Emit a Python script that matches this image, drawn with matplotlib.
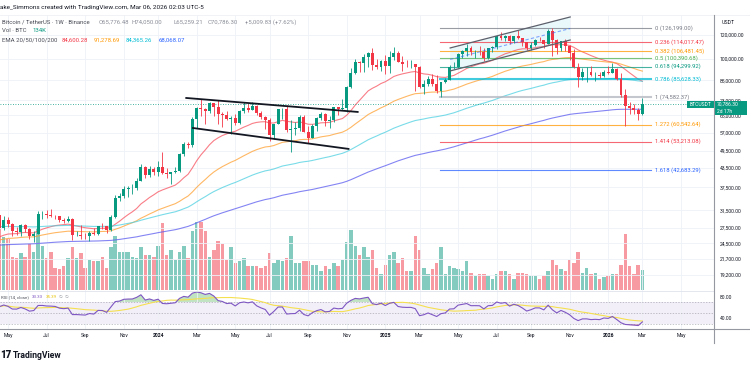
import numpy as np
import pandas as pd
import matplotlib
matplotlib.use("Agg")
import matplotlib.pyplot as plt
from matplotlib.patches import Polygon, Rectangle
from matplotlib.lines import Line2D
from matplotlib.ticker import NullLocator

plt.rcParams['font.family'] = ['Roboto', 'DejaVu Sans']

# ---- weekly BTCUSDT candles (Binance, 1W), first bar = week of 2023-04-17
first_week = "2023-04-17"
first_open = 30290
closes = [
    27590, 29230, 28430, 26780, 26750, 28070, 27230, 25910, 26340, 30530,
    30590, 30290, 30230, 30080, 29280, 29040, 29410, 26090, 26100, 25970,
    25830, 26530, 26250, 27970, 27930, 27160, 29990, 34500, 35010, 37060,
    37360, 37450, 39470, 43790, 41370, 42990, 42280, 43930, 41730, 41580,
    42030, 42580, 48300, 52140, 51730, 63110, 68950, 68370, 67210, 71280,
    69360, 65660, 64940, 63120, 63890, 61480, 66940, 68510, 67770, 69650,
    66200, 64250, 62680, 55850, 60800, 68160, 68250, 58120, 58710, 58920,
    64220, 57300, 54870, 59990, 63580, 65620, 62090, 62850, 69030, 68000,
    68780, 80400, 89850, 97900, 97190, 101110, 104460, 95190, 93690, 98360,
    94530, 101330, 104710, 97700, 96460, 96120, 96260, 94270, 80730, 82610,
    86080, 82390, 78430, 83760, 85170, 93750, 94280, 104120, 106450, 109010,
    105640, 105730, 105570, 100960, 108360, 109200, 119090, 117300, 119440, 114200,
    119300, 117400, 113490, 108250, 111140, 115270, 115230, 112160, 123480, 115170,
    108640, 114470, 110540, 104720, 94260, 86830, 90360, 90400, 88170, 88650,
    87800, 90500, 89600, 92600, 85600, 75900, 69800, 68600, 67600, 65776.48,
    70786.30]
highs = [
    30490, 30040, 29820, 28490, 27660, 28450, 28450, 27400, 26800, 31430,
    31280, 31500, 31800, 30340, 30080, 29730, 30250, 29690, 26830, 28150,
    26400, 26880, 27480, 28000, 28600, 27990, 30400, 35280, 35980, 38000,
    37980, 38400, 40250, 44700, 44000, 44300, 43800, 45880, 48970, 43580,
    42200, 43880, 48590, 52820, 52990, 64000, 69000, 73780, 68920, 71770,
    71340, 72800, 66870, 67230, 64800, 65490, 67700, 71950, 70600, 71950,
    70190, 66950, 64500, 63860, 61000, 68400, 68500, 70080, 62750, 61800,
    65000, 64960, 59800, 60640, 64130, 66500, 66000, 64480, 69500, 69520,
    73620, 81500, 93480, 99590, 98700, 104090, 105300, 108350, 99960, 98980,
    102700, 106420, 109590, 106460, 102500, 98830, 99480, 96500, 95000, 84900,
    87450, 88770, 88500, 83990, 86430, 95750, 97890, 104360, 107100, 111980,
    110720, 106800, 110530, 108900, 108530, 110500, 119500, 123220, 120250, 119800,
    119400, 124470, 117600, 113600, 113380, 116660, 117900, 115400, 125700, 126199,
    115970, 115000, 116400, 110800, 107500, 96600, 93090, 94150, 94600, 90360,
    90600, 91800, 94500, 97100, 93500, 90000, 79300, 72000, 70900, 68500,
    74050]
lows = [
    27100, 27020, 27660, 25810, 26080, 25880, 26600, 25350, 24800, 26260,
    29500, 29700, 29950, 29500, 28860, 28580, 28700, 25170, 25800, 25330,
    25350, 24900, 26000, 26000, 27200, 26540, 26900, 29700, 33900, 34500,
    34800, 35600, 36700, 39400, 40200, 40500, 41300, 40750, 41500, 40280,
    38550, 41800, 42250, 47700, 50520, 50900, 59000, 64500, 60780, 66400,
    64500, 60660, 59600, 62800, 56550, 60190, 60750, 66100, 66600, 67600,
    65000, 63400, 58400, 53480, 54260, 60630, 63400, 57120, 49000, 56080,
    57800, 57200, 52550, 54600, 57500, 62700, 59830, 58900, 62000, 65080,
    67500, 66840, 80200, 89400, 90800, 90500, 94150, 92120, 92500, 91300,
    89250, 89900, 99500, 97500, 91230, 94090, 93390, 78260, 80000, 76600,
    81150, 81600, 77150, 74500, 83100, 85150, 92800, 93380, 100700, 102000,
    103100, 100370, 102650, 98200, 99630, 105100, 107450, 115730, 114700, 112000,
    112650, 116800, 110680, 107250, 107270, 110620, 114380, 108620, 111900, 102000,
    103500, 106300, 106300, 98940, 93000, 80600, 85300, 83800, 87500, 84450,
    86400, 86900, 89200, 89500, 85300, 74500, 60000, 65500, 65600, 62500,
    65259.21]
# weekly volume, thousands of BTC
volumes_k = [
    510, 360, 345, 225, 215, 250, 225, 310, 260, 425,
    300, 215, 260, 150, 140, 160, 220, 295, 220, 250,
    150, 205, 195, 195, 225, 150, 290, 365, 255, 255,
    255, 225, 220, 290, 235, 235, 225, 300, 460, 235,
    270, 200, 255, 300, 220, 405, 465, 465, 400, 225,
    270, 335, 310, 205, 295, 180, 195, 215, 160, 160,
    165, 150, 160, 250, 185, 200, 195, 215, 365, 185,
    180, 195, 195, 170, 170, 130, 165, 140, 185, 160,
    205, 325, 410, 300, 235, 295, 225, 275, 145, 110,
    170, 235, 255, 185, 220, 125, 130, 370, 275, 145,
    105, 140, 180, 295, 110, 165, 145, 140, 130, 195,
    115, 90, 110, 110, 95, 75, 105, 130, 125, 105,
    75, 115, 115, 110, 95, 90, 70, 95, 125, 205,
    170, 140, 125, 200, 185, 255, 115, 145, 110, 115,
    70, 85, 95, 105, 105, 170, 380, 165, 110, 170,
    134]

# EMA 20/50/100/200, started from the levels seen at the left edge
ema_periods = [20, 50, 100, 200]
ema_seeds = [25500, 25000, 27800, 24100]
ema_line_colors = ["#f7525f", "#ffa030", "#4dd0e1", "#5b5bf0"]
ema_legend = ["84,600.28", "91,278.69", "84,365.26", "68,068.07"]
ema_legend_colors = ["#f23645", "#ff9800", "#00bcd4", "#2962ff"]

# RSI(14) starting averages
rsi_seed_gain, rsi_seed_loss = 1000, 420

# Fibonacci retracement (Apr 2025 low -> Oct 2025 high)
fib_ratios = ["0", "0.236", "0.382", "0.5", "0.618", "0.786", "1", "1.272", "1.414", "1.618"]
fib_prices = [126199.00, 114017.47, 106481.45, 100390.68, 94299.92, 85628.33,
              74582.37, 60542.64, 53213.08, 42683.29]
fib_colors = ["#787b86", "#f23645", "#ff9800", "#4caf50", "#089981", "#00bcd4",
              "#b2b5be", "#ff9800", "#f23645", "#2962ff"]
fib_span = ("2025-04-06", "2026-03-16")

# drawn channels: (date, price) anchors
rise_upper = [("2025-04-22", 108700), ("2025-11-04", 137700)]
rise_lower = [("2025-04-22", 91200), ("2025-11-04", 115500)]
fall_upper = [("2024-02-16", 74200), ("2024-11-22", 66700)]
fall_lower = [("2024-02-27", 59000), ("2024-11-07", 50300)]

price_ticks = [19200, 21700, 24500, 27500, 31500, 37500, 43500, 49500, 57000,
               65000, 73000, 85000, 100000, 120000]

UP, DOWN = "#089981", "#f23645"
W, H = 750, 375


def fx(px):
    return px / W


def fy(py):
    return 1 - py / H


def wk(d):
    return (pd.Timestamp(d) - pd.Timestamp(first_week)).days / 7


def ema(vals, n, seed):
    a = 2 / (n + 1)
    e = seed
    out = []
    for v in vals:
        e = a * v + (1 - a) * e
        out.append(e)
    return np.array(out)


c = np.array(closes, dtype=float)
o = np.concatenate([[first_open], c[:-1]])
x = np.arange(len(c))
up = c >= o
col = np.where(up, UP, DOWN)

# rsi
diff = c - o
ag, al = rsi_seed_gain, rsi_seed_loss
rsi = []
for d in diff:
    ag = (ag * 13 + max(d, 0)) / 14
    al = (al * 13 + max(-d, 0)) / 14
    rsi.append(100 - 100 / (1 + ag / al))
rsi = np.array(rsi)
rsi_ma = pd.Series(rsi).rolling(14, min_periods=1).mean().values

xlim = (0.12, 166.7)

# month ticks: first weekly bar of every odd month
weeks = pd.date_range(first_week, periods=175, freq="7D")
tick_pos, tick_lab, tick_bold = [], [], []
for k in range(1, len(weeks)):
    d, p = weeks[k], weeks[k - 1]
    if d.month != p.month and d.month % 2 == 1 and k < xlim[1] - 4:
        tick_pos.append(k)
        tick_lab.append(str(d.year) if d.month == 1 else d.strftime("%b"))
        tick_bold.append(d.month == 1)

fig = plt.figure(figsize=(7.5, 3.75), dpi=100)
rect_price = [0, fy(291), fx(714), (291 - 15) / H]
rect_rsi = [0, fy(328.5), fx(714), (328.5 - 291) / H]

ax_vol = fig.add_axes(rect_price)
ax = fig.add_axes(rect_price, sharex=ax_vol)
ax_rsi = fig.add_axes(rect_rsi, sharex=ax_vol)
ax.patch.set_alpha(0)

# volume
ax_vol.bar(x, volumes_k, width=0.8, color=col, alpha=0.5, linewidth=0)
ax_vol.set_ylim(-10, 1886)
ax_vol.axis("off")

# price pane
ax.set_yscale("log")
ax.set_ylim(17002, 139790)
ax.set_xlim(*xlim)
ax.set_xticks(tick_pos)
ax.set_yticks(price_ticks)
ax.yaxis.set_minor_locator(NullLocator())
ax.grid(True, color="#eef1f6", lw=0.6, zorder=0)
ax.tick_params(axis="x", length=0, labelbottom=False)
ax.yaxis.tick_right()
ax.tick_params(axis="y", length=0, pad=4.3, labelsize=3.6, labelcolor="#131722")
ax.set_yticklabels([f"{v:,.2f}" for v in price_ticks])
for s in ax.spines.values():
    s.set_visible(False)

for n, seed, lc in zip(ema_periods, ema_seeds, ema_line_colors):
    ax.plot(x, ema(c, n, seed), color=lc, lw=0.8, alpha=0.75, zorder=2)

ax.vlines(x, lows, highs, colors=col, lw=0.6, zorder=3)
ax.bar(x, c - o, bottom=o, width=0.68, color=col, linewidth=0, zorder=4)

# fib levels
f0, f1 = wk(fib_span[0]), wk(fib_span[1])
for r, p, fc in zip(fib_ratios, fib_prices, fib_colors):
    lw = 1.5 if r in ("0.786", "1") else 0.8
    ax.plot([f0, f1], [p, p], color=fc, lw=lw, alpha=0.75, zorder=2.5)
    ax.text(f1 + 1.0, p, f"{r} ({p:,.2f})", color=fc if r != "1" else "#787b86",
            fontsize=4.2, va="center", ha="left")

# rising channel
xs = [wk(rise_upper[0][0]), wk(rise_upper[1][0])]
up_p = [rise_upper[0][1], rise_upper[1][1]]
lo_p = [rise_lower[0][1], rise_lower[1][1]]
ax.add_patch(Polygon([(xs[0], up_p[0]), (xs[1], up_p[1]), (xs[1], lo_p[1]), (xs[0], lo_p[0])],
                     closed=True, facecolor="#00bcd4", alpha=0.09, edgecolor="none", zorder=1))
ax.plot(xs, up_p, color="#5d606b", lw=0.9, zorder=5)
ax.plot(xs, lo_p, color="#5d606b", lw=0.9, zorder=5)
mid = [np.sqrt(up_p[0] * lo_p[0]), np.sqrt(up_p[1] * lo_p[1])]
ax.plot(xs, mid, color="#2962ff", lw=0.8, ls=(0, (3, 2)), alpha=0.55, zorder=5)

# falling channel
for line in (fall_upper, fall_lower):
    ax.plot([wk(line[0][0]), wk(line[1][0])], [line[0][1], line[1][1]],
            color="#131722", lw=1.3, zorder=5)

# last price line
ax.axhline(c[-1], color=UP, lw=0.6, ls=(0, (1, 2)), zorder=2)

# rsi pane
ax_rsi.set_ylim(21.3, 90.1)
ax_rsi.set_xlim(*xlim)
ax_rsi.axhspan(30, 70, color="#7e57c2", alpha=0.09, lw=0)
for lv in (70, 50, 30):
    ax_rsi.axhline(lv, color="#787b86", lw=0.5, ls=(0, (2, 2)), alpha=0.6)
ax_rsi.fill_between(x, rsi, 70, where=rsi > 70, interpolate=True, color="#4caf50", alpha=0.35, lw=0)
ax_rsi.fill_between(x, rsi, 30, where=rsi < 30, interpolate=True, color="#f23645", alpha=0.35, lw=0)
ax_rsi.plot(x, rsi_ma, color="#f5e050", lw=0.8)
ax_rsi.plot(x, rsi, color="#7e57c2", lw=0.8)
ax_rsi.set_xticks(tick_pos)
ax_rsi.set_xticklabels(tick_lab)
for lab, b in zip(ax_rsi.get_xticklabels(), tick_bold):
    lab.set_fontweight("bold" if b else "normal")
ax_rsi.tick_params(axis="x", length=0, pad=3, labelsize=3.6, labelcolor="#131722")
ax_rsi.set_yticks([40, 80])
ax_rsi.set_yticklabels(["40.00", "80.00"])
ax_rsi.yaxis.tick_right()
ax_rsi.tick_params(axis="y", length=0, pad=4.3, labelsize=3.6, labelcolor="#131722")
ax_rsi.grid(True, axis="x", color="#eef1f6", lw=0.6)
for s in ax_rsi.spines.values():
    s.set_visible(False)

# pane separators
fig.add_artist(Line2D([0, 1], [fy(328.7), fy(328.7)], color="#9598a1", lw=0.8))
fig.add_artist(Line2D([0, fx(714)], [fy(291), fy(291)], color="#e0e3eb", lw=0.6))
fig.add_artist(Line2D([0, 1], [fy(15), fy(15)], color="#eef0f4", lw=0.6))
fig.add_artist(Line2D([fx(714), fx(714)], [fy(15), fy(343)], color="#9598a1", lw=0.8))

# last price label
fig.canvas.draw()
_, yd = ax.transData.transform((0, c[-1]))
yp = H - yd * H / fig.bbox.height
fig.add_artist(Rectangle((fx(687), fy(yp + 4)), fx(714) - fx(687), 7.5 / H,
                         facecolor=UP, edgecolor="none"))
fig.add_artist(Rectangle((fx(714), fy(yp + 11)), fx(747) - fx(714), 14 / H,
                         facecolor=UP, edgecolor="none"))
fig.text(fx(700.5), fy(yp), "BTCUSDT", color="white", fontsize=3.6, ha="center", va="center")
fig.text(fx(717), fy(yp), f"{c[-1]:,.2f}", color="white", fontsize=3.6, ha="left", va="center")
fig.text(fx(717), fy(yp + 7), "2d 17h", color="white", fontsize=3.6, ha="left", va="center")
fig.text(fx(722), fy(23), "USDT", color="#131722", fontsize=3.8, ha="left", va="center")

# header & legends
fig.text(fx(0), fy(8), "ake_Simmons created with TradingView.com, Mar 06, 2026 02:03 UTC-5",
         color="#131722", fontsize=4.6, va="center")
GRAY, DARK = "#8b8e98", "#4a4d57"
fig.text(fx(2), fy(22), "Bitcoin / TetherUS · 1W · Binance", color=DARK, fontsize=4.3, va="center")
ohlc = [(99, "O65,776.48"), (132, "H74,050.00"), (173, "L65,259.21"), (208, "C70,786.30"),
        (245, "+5,009.83 (+7.62%)")]
for px, t in ohlc:
    fig.text(fx(px), fy(22), t, color=GRAY, fontsize=4.3, va="center")
fig.text(fx(2), fy(30.5), "Vol · BTC", color=DARK, fontsize=4.3, va="center")
fig.text(fx(32), fy(30.5), "134K", color=UP, fontsize=4.3, va="center")
fig.text(fx(2), fy(40), "EMA 20/50/100/200", color=DARK, fontsize=4.3, va="center")
for px, t, lc in zip([62, 94, 126, 159], ema_legend, ema_legend_colors):
    fig.text(fx(px), fy(40), t, color=lc, fontsize=4.3, va="center")

rsi_legend = [(1, "RSI (14, close)", DARK), (32, "33.33", "#7e57c2"),
              (46, "35.39", "#e6c200"), (58.5, "∅", GRAY), (64.5, "∅", GRAY)]
for px, t, lc in rsi_legend:
    fig.text(fx(px), fy(297.5), t, color=lc, fontsize=3.2, va="center")

# TradingView mark
fig.text(fx(0), fy(355), "17", color="#131722", fontsize=7, fontweight="heavy", va="center")
fig.text(fx(13), fy(355), "TradingView", color="#131722", fontsize=6.2, fontweight="bold", va="center")

fig.savefig("out.png", dpi=100, facecolor="white")
